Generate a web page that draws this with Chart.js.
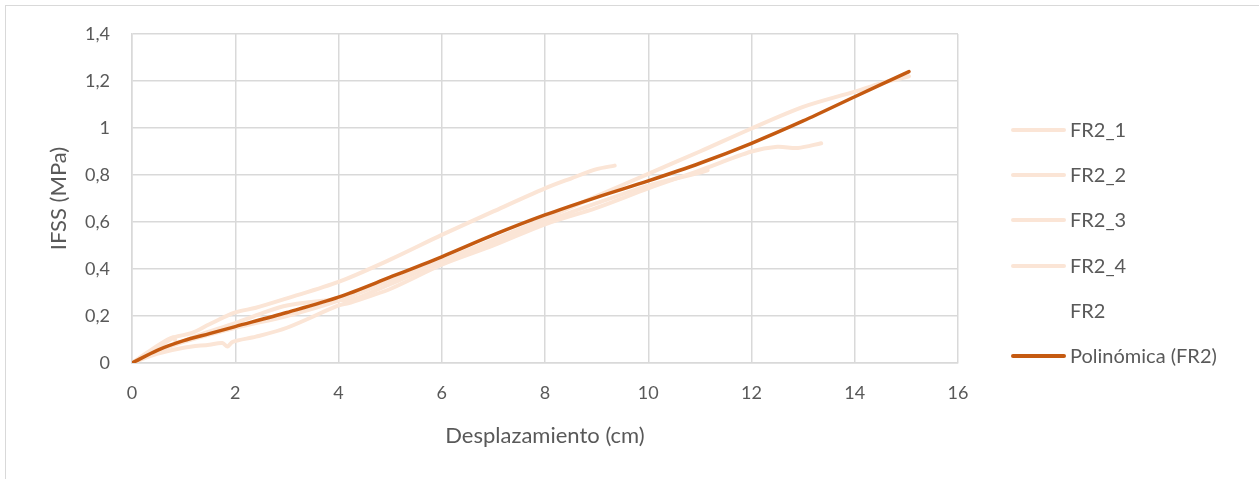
<!DOCTYPE html>
<html>
<head>
<meta charset="utf-8">
<script src="https://cdn.jsdelivr.net/npm/chart.js@4"></script>
<style>
    body { margin: 0; background: #fff; font-family: Lato, sans-serif; }
    #frame { position: absolute; left: 5px; top: 5px; width: 1300px; height: 500px; border: 1.5px solid #d9d9d9; box-sizing: border-box; }
    #wrap { position: absolute; left: 0; top: 0; width: 1259px; height: 479px; }
    #legend { position: absolute; left: 1011px; top: 0; }
    .item { position: absolute; left: 0; width: 240px; height: 20px; white-space: nowrap; }
    .item .line { position: absolute; left: 0; top: 8px; width: 55px; height: 4px; border-radius: 2px; }
    .item span { position: absolute; left: 59px; top: -3px; font-size: 20px; color: #595959; }
</style>
</head>
<body>
<div id="frame"></div>
<div id="wrap"><canvas id="grafico"></canvas></div>
<div id="legend"></div>
<script>
// Ensayos FR2 - desplazamiento (cm) vs IFSS (MPa)
const fr2_1_x = [0, 0.3, 0.6, 0.83, 1.15, 1.5, 2, 2.4, 3, 4, 5, 6, 7, 8, 8.5, 9, 9.35];
const fr2_1_y = [0, 0.04, 0.08, 0.11, 0.127, 0.165, 0.215, 0.235, 0.275, 0.345, 0.44, 0.545, 0.645, 0.743, 0.785, 0.825, 0.84];

const fr2_2_x = [0, 0.5, 1, 1.5, 1.75, 1.85, 1.95, 2.4, 3, 4, 4.2, 5, 6, 7, 8, 9, 10, 11, 12, 12.5, 12.9, 13.35];
const fr2_2_y = [0, 0.04, 0.065, 0.078, 0.085, 0.07, 0.09, 0.112, 0.15, 0.245, 0.255, 0.315, 0.418, 0.5, 0.59, 0.66, 0.743, 0.82, 0.9, 0.92, 0.915, 0.935];

const fr2_3_x = [0, 0.5, 1, 2, 3, 4, 5, 6, 7, 8, 9, 10, 11, 12, 13, 14, 14.5, 15.05];
const fr2_3_y = [0, 0.05, 0.09, 0.15, 0.2, 0.265, 0.35, 0.435, 0.525, 0.615, 0.71, 0.805, 0.9, 0.998, 1.09, 1.155, 1.19, 1.22];

const fr2_4_x = [0, 0.4, 0.8, 0.87, 1.3, 2, 2.5, 3, 4, 4.2, 5, 6, 7, 8, 9, 10, 11, 11.15];
const fr2_4_y = [0, 0.06, 0.11, 0.085, 0.12, 0.17, 0.21, 0.245, 0.27, 0.265, 0.335, 0.43, 0.51, 0.6, 0.68, 0.755, 0.81, 0.82];

const poli_x = [0, 0.5, 1, 1.5, 2, 3, 4, 5, 6, 7, 8, 9, 10, 11, 12, 13, 14, 15.05];
const poli_y = [0, 0.055, 0.095, 0.125, 0.155, 0.215, 0.28, 0.365, 0.452, 0.545, 0.63, 0.705, 0.775, 0.85, 0.935, 1.03, 1.133, 1.24];

const xTicks = [0, 2, 4, 6, 8, 10, 12, 14, 16];
const yTicks = [0, 0.2, 0.4, 0.6, 0.8, 1, 1.2, 1.4];

const claro = '#fbe5d6';
const oscuro = '#c55a11';

function puntos(xs, ys) {
    return xs.map((x, i) => ({ x: x, y: ys[i] }));
}

function serie(label, xs, ys, color, width, order) {
    return {
        label: label,
        data: puntos(xs, ys),
        borderColor: color,
        backgroundColor: color,
        borderWidth: width,
        showLine: true,
        pointRadius: 0,
        tension: 0.3,
        borderCapStyle: 'round',
        order: order
    };
}

const datasets = [
    serie('FR2_1', fr2_1_x, fr2_1_y, claro, 4, 1),
    serie('FR2_2', fr2_2_x, fr2_2_y, claro, 4, 1),
    serie('FR2_3', fr2_3_x, fr2_3_y, claro, 4, 1),
    serie('FR2_4', fr2_4_x, fr2_4_y, claro, 4, 1),
    { label: 'FR2', data: [], showLine: false, pointRadius: 0, borderColor: 'transparent', order: 2 },
    serie('Polinómica (FR2)', poli_x, poli_y, oscuro, 3.5, 0)
];

const coma = v => String(v).replace('.', ',');

new Chart(document.getElementById('grafico'), {
    type: 'scatter',
    data: { datasets: datasets },
    options: {
        responsive: true,
        maintainAspectRatio: false,
        animation: false,
        layout: { padding: { left: 42, top: 34, right: 301, bottom: 26 } },
        plugins: { legend: { display: false }, tooltip: { enabled: false } },
        scales: {
            x: {
                type: 'linear', min: 0, max: 16,
                afterBuildTicks: s => { s.ticks = xTicks.map(v => ({ value: v })); },
                afterFit: s => { s.height = 90; },
                grid: { color: '#d9d9d9', lineWidth: 1.5, drawTicks: false },
                border: { color: '#d9d9d9', width: 1.5 },
                ticks: { padding: 19, color: '#595959', font: { family: 'Lato', size: 18 }, callback: coma },
                title: { display: true, text: 'Desplazamiento (cm)', color: '#595959', font: { family: 'Lato', size: 22 }, padding: { top: 14 } }
            },
            y: {
                type: 'linear', min: 0, max: 1.4,
                afterBuildTicks: s => { s.ticks = yTicks.map(v => ({ value: v })); },
                afterFit: s => { s.width = 90; },
                grid: { color: '#d9d9d9', lineWidth: 1.5, drawTicks: false },
                border: { color: '#d9d9d9', width: 1.5 },
                ticks: { padding: 22, color: '#595959', font: { family: 'Lato', size: 18 }, callback: coma },
                title: { display: true, text: 'IFSS (MPa)', color: '#595959', font: { family: 'Lato', size: 22 }, padding: { bottom: 4 } }
            }
        }
    }
});

// Leyenda a la derecha, armada desde los datasets
const legend = document.getElementById('legend');
datasets.forEach((ds, i) => {
    const item = document.createElement('div');
    item.className = 'item';
    item.style.top = (120 + i * 45.2) + 'px';
    const line = document.createElement('div');
    line.className = 'line';
    if (ds.showLine) line.style.background = ds.borderColor;
    const txt = document.createElement('span');
    txt.textContent = ds.label;
    item.appendChild(line);
    item.appendChild(txt);
    legend.appendChild(item);
});
</script>
</body>
</html>
